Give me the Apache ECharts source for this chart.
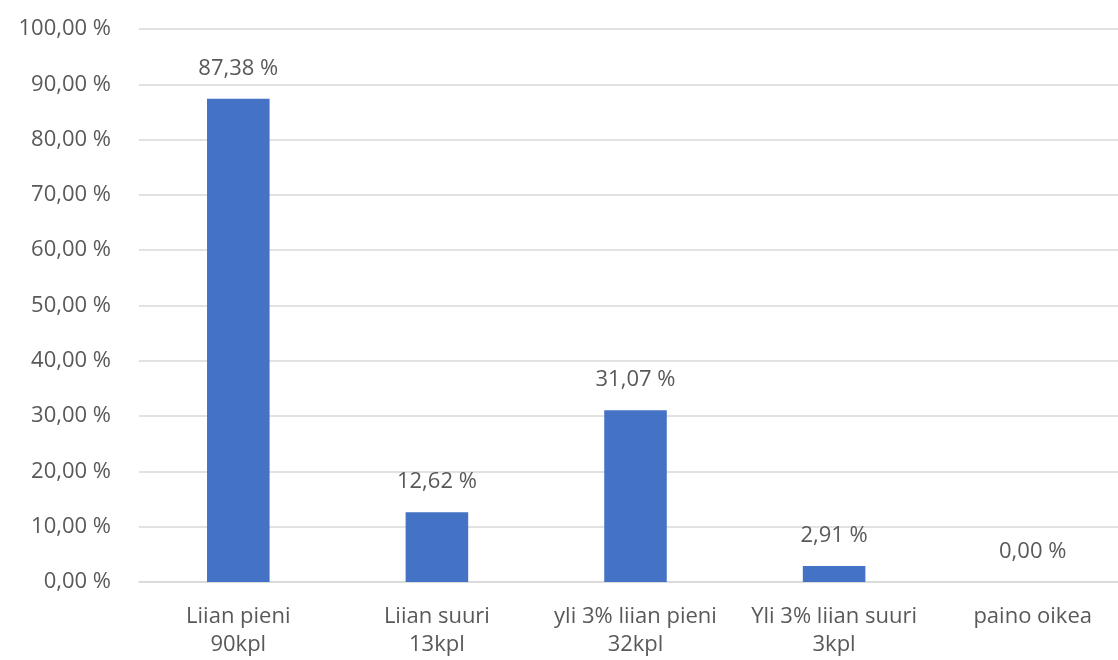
<!DOCTYPE html>
<html>
<head>
<meta charset="utf-8">
<script src="https://cdn.jsdelivr.net/npm/echarts@6/dist/echarts.min.js"></script>
<style>
  html, body { margin: 0; padding: 0; background: #fff; }
  #chart { width: 1118px; height: 660px; }
</style>
</head>
<body>
<div id="chart"></div>
<script>
// kategoriat ja osuudet (%)
const categories = [
  'Liian pieni\n90kpl',
  'Liian suuri\n13kpl',
  'yli 3% liian pieni\n32kpl',
  'Yli 3% liian suuri\n3kpl',
  'paino oikea'
];
const shares = [87.38, 12.62, 31.07, 2.91, 0.00];
const yTicks = [0, 10, 20, 30, 40, 50, 60, 70, 80, 90, 100];

const textColor = '#595959';
const fontFamily = '"Open Sans", "Noto Sans", sans-serif';

// suomalainen desimaalipilkku
function pct(v) {
  return v.toFixed(2).replace('.', ',') + ' %';
}

const mychart = echarts.init(document.getElementById('chart'));
mychart.setOption({
  animation: false,
  grid: {
    left: 139,
    top: 29,
    width: 993,
    bottom: 78,
    outerBoundsMode: 'none'
  },
  xAxis: {
    type: 'category',
    data: categories,
    axisLine: { lineStyle: { color: '#d9d9d9', width: 1.5 } },
    axisTick: { show: false },
    axisLabel: {
      color: textColor,
      fontSize: 22,
      fontFamily: fontFamily,
      lineHeight: 28,
      margin: 21,
      interval: 0
    }
  },
  yAxis: {
    type: 'value',
    min: yTicks[0],
    max: yTicks[yTicks.length - 1],
    interval: 10,
    axisLine: { show: false },
    axisTick: { show: false },
    splitLine: { lineStyle: { color: '#d9d9d9', width: 1.5 } },
    axisLabel: {
      color: textColor,
      fontSize: 22,
      fontFamily: fontFamily,
      margin: 28,
      formatter: v => pct(v)
    }
  },
  series: [
    {
      type: 'bar',
      data: shares,
      barWidth: '31.5%',
      itemStyle: { color: '#4472c4' },
      label: {
        show: true,
        position: 'top',
        distance: 19,
        color: textColor,
        fontSize: 22,
        fontFamily: fontFamily,
        formatter: p => pct(p.value)
      }
    }
  ]
});
</script>
</body>
</html>
